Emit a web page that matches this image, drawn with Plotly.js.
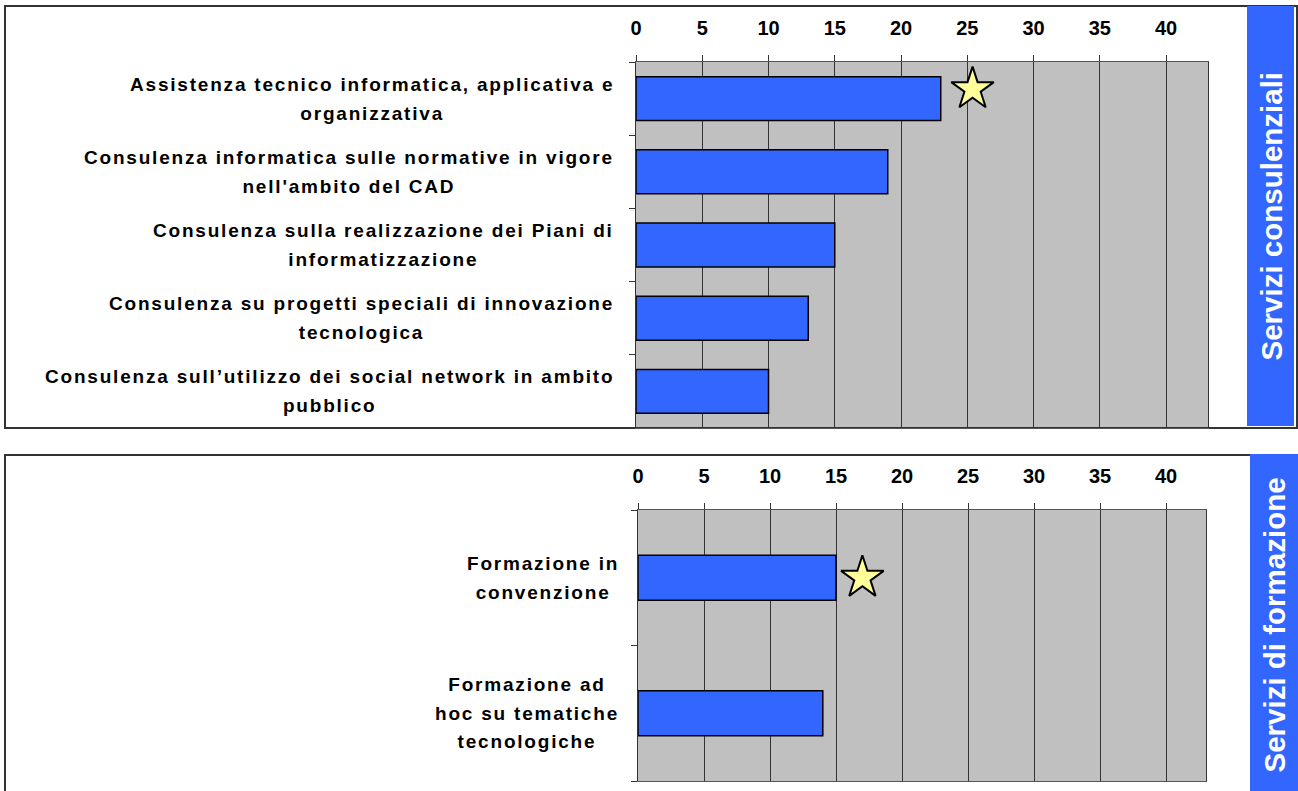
<!DOCTYPE html>
<html>
<head>
<meta charset="utf-8">
<script src="https://cdn.plot.ly/plotly-3.0.1.min.js"></script>
<style>
  html, body { margin: 0; padding: 0; background: #ffffff; }
  #chart { width: 1298px; height: 791px; }
</style>
</head>
<body>
<div id="chart"></div>
<script>
// ---------------- DATA ----------------
const consulCategories = [
  "Assistenza tecnico informatica, applicativa e<br>organizzativa",
  "Consulenza informatica sulle normative in vigore<br>nell'ambito del CAD",
  "Consulenza sulla realizzazione dei Piani di<br>informatizzazione",
  "Consulenza su progetti speciali di innovazione<br>tecnologica",
  "Consulenza sull\u2019utilizzo dei social network in ambito<br>pubblico"
];
const consulValues = [23, 19, 15, 13, 10];
const consulStarCategory = ["Assistenza tecnico informatica, applicativa e<br>organizzativa"];
const consulStarValues = [25.4];
const consulPanelTitle = "Servizi consulenziali";

const formCategories = [
  "Formazione in<br>convenzione",
  "Formazione ad<br>hoc su tematiche<br>tecnologiche"
];
const formValues = [15, 14];
const formStarCategory = ["Formazione in<br>convenzione"];
const formStarValues = [17];
const formPanelTitle = "Servizi di formazione";

const xTickValues = [0, 5, 10, 15, 20, 25, 30, 35, 40];

// ---------------- LAYOUT HELPERS ----------------
const W = 1298, H = 791;
const px = x => x / W;
const py = y => 1 - y / H;
const FONT = "Liberation Sans, Arial, Helvetica, sans-serif";
const BAR_BLUE = "#3366ff";

function idx(cats) { return cats.map((c, i) => i); }
function boundaries(n) { const b = []; for (let i = 0; i <= n; i++) b.push(i - 0.5); return b; }
function labelHtml(s) {
  return s.split("<br>").map(l =>
    '<span style="font-size:19px;letter-spacing:1.8px">' + l + '</span>').join("<br>");
}

const traces = [
  {
    type: "bar", orientation: "h",
    x: consulValues, y: idx(consulCategories),
    width: 0.6,
    marker: { color: BAR_BLUE, line: { color: "#000", width: 1.5 } },
    xaxis: "x", yaxis: "y", hoverinfo: "x"
  },
  {
    type: "scatter", mode: "markers",
    x: consulStarValues,
    y: consulStarCategory.map(c => consulCategories.indexOf(c) - 0.13),
    marker: { symbol: "star", size: 32, color: "#ffff99", line: { color: "#000", width: 2 } },
    xaxis: "x", yaxis: "y", cliponaxis: false, hoverinfo: "x"
  },
  {
    type: "bar", orientation: "h",
    x: formValues, y: idx(formCategories),
    width: 0.333,
    marker: { color: BAR_BLUE, line: { color: "#000", width: 1.5 } },
    xaxis: "x2", yaxis: "y2", hoverinfo: "x"
  },
  {
    type: "scatter", mode: "markers",
    x: formStarValues,
    y: formStarCategory.map(c => formCategories.indexOf(c)),
    marker: { symbol: "star", size: 32, color: "#ffff99", line: { color: "#000", width: 2 } },
    xaxis: "x2", yaxis: "y2", cliponaxis: false, hoverinfo: "x"
  }
];

function xAxis(domain, range, anchor) {
  return {
    domain: domain, range: range, anchor: anchor, side: "top",
    tickmode: "array", tickvals: xTickValues, ticktext: xTickValues.map(String),
    ticks: "outside", ticklen: 6, tickwidth: 1, tickcolor: "#333",
    tickfont: { family: FONT, size: 20, color: "#000", weight: "bold" },
    ticklabelstandoff: 12,
    showgrid: true, gridcolor: "#333", gridwidth: 1,
    zeroline: false, showline: true, linecolor: "#555", linewidth: 1, mirror: true,
    fixedrange: true
  };
}
function yAxis(domain, n, anchor) {
  return {
    domain: domain, range: [n - 0.5, -0.5], anchor: anchor,
    tickmode: "array", tickvals: boundaries(n), ticktext: boundaries(n).map(() => ""),
    ticks: "outside", ticklen: 6, tickwidth: 1, tickcolor: "#333",
    showticklabels: false, showgrid: false, zeroline: false,
    showline: true, linecolor: "#333", linewidth: 1, mirror: true,
    fixedrange: true
  };
}

const annotations = [];
consulCategories.forEach((c, i) => annotations.push({
  xref: "paper", yref: "y", x: px(616), y: i, xanchor: "right", yanchor: "middle",
  align: "center", showarrow: false, text: labelHtml(c),
  font: { family: FONT, size: 22, color: "#000", weight: "bold" }
}));
formCategories.forEach((c, i) => annotations.push({
  xref: "paper", yref: "y2", x: px(621), y: i, xanchor: "right", yanchor: "middle",
  align: "center", showarrow: false, text: labelHtml(c),
  font: { family: FONT, size: 22, color: "#000", weight: "bold" }
}));
annotations.push({
  xref: "paper", yref: "paper", x: px(1270.5), y: py(216), xanchor: "center", yanchor: "middle",
  textangle: -90, showarrow: false, text: consulPanelTitle,
  font: { family: FONT, size: 29.5, color: "#fff", weight: "bold" }
});
annotations.push({
  xref: "paper", yref: "paper", x: px(1273.5), y: py(625), xanchor: "center", yanchor: "middle",
  textangle: -90, showarrow: false, text: formPanelTitle,
  font: { family: FONT, size: 29.5, color: "#fff", weight: "bold" }
});

const shapes = [
  { type: "rect", xref: "paper", yref: "paper", x0: px(5), x1: px(1297), y0: py(6), y1: py(428),
    line: { color: "#333", width: 2 }, fillcolor: "rgba(0,0,0,0)", layer: "below" },
  { type: "rect", xref: "paper", yref: "paper", x0: px(5), x1: px(1310), y0: py(455), y1: py(805),
    line: { color: "#333", width: 2 }, fillcolor: "rgba(0,0,0,0)", layer: "below" },
  { type: "rect", xref: "paper", yref: "paper", x0: px(1247), x1: px(1294), y0: py(6), y1: py(426),
    line: { width: 0 }, fillcolor: BAR_BLUE, layer: "above" },
  { type: "rect", xref: "paper", yref: "paper", x0: px(1250), x1: px(1300), y0: py(454), y1: py(795),
    line: { width: 0 }, fillcolor: BAR_BLUE, layer: "above" }
];

const layout = {
  width: W, height: H,
  margin: { l: 0, r: 0, t: 0, b: 0, pad: 0 },
  paper_bgcolor: "#ffffff", plot_bgcolor: "#c0c0c0",
  showlegend: false,
  font: { family: FONT, color: "#000" },
  xaxis: xAxis([px(636), px(1208)], [0, 43.17], "y"),
  yaxis: yAxis([py(428), py(62)], consulCategories.length, "x"),
  xaxis2: xAxis([px(638), px(1206)], [0, 43.03], "y2"),
  yaxis2: yAxis([py(781), py(510)], formCategories.length, "x2"),
  annotations: annotations,
  shapes: shapes
};

Plotly.newPlot("chart", traces, layout, { displayModeBar: false, staticPlot: true });
</script>
</body>
</html>
